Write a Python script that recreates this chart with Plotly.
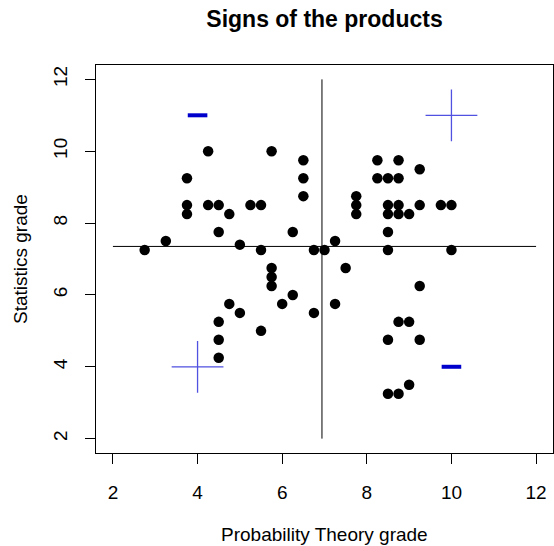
import plotly.graph_objects as go

# Grades of each student: probability theory (x) and statistics (y)
prob_grade = [4.25, 5.75, 6.5, 6.5, 6.5, 3.75, 3.75, 3.75, 4.25, 4.5, 4.75, 5.25, 5.5,
              4.5, 6.25, 3.25, 2.75, 5.0, 5.5, 6.75, 7.0,
              8.25, 8.75, 8.25, 8.5, 8.75, 9.25, 7.75, 7.75, 7.75, 8.5, 8.75, 8.5, 8.75,
              9.0, 9.25, 9.75, 10.0, 8.5, 7.25, 8.5, 10.0,
              5.75, 5.75, 5.75, 6.25, 6.0, 6.75, 4.75, 5.0, 4.5, 4.5, 4.5, 5.5,
              7.5, 9.25, 7.25, 8.75, 9.0, 8.5, 9.25, 9.0, 8.5, 8.75]
stat_grade = [10.0, 10.0, 9.75, 9.25, 8.75, 9.25, 8.5, 8.25, 8.5, 8.5, 8.25, 8.5, 8.5,
              7.75, 7.75, 7.5, 7.25, 7.4, 7.25, 7.25, 7.25,
              9.75, 9.75, 9.25, 9.25, 9.25, 9.5, 8.75, 8.5, 8.25, 8.5, 8.5, 8.25, 8.25,
              8.25, 8.5, 8.5, 8.5, 7.75, 7.5, 7.25, 7.25,
              6.75, 6.5, 6.25, 6.0, 5.75, 5.5, 5.75, 5.5, 5.25, 4.75, 4.25, 5.0,
              6.75, 6.25, 5.75, 5.25, 5.25, 4.75, 4.75, 3.5, 3.25, 3.25]

# Centre lines (means of the two grades)
mean_prob = 6.94
mean_stat = 7.35
line_span = [2, 12]

# Quadrant sign labels
sign_x = [4, 10, 10, 4]
sign_y = [11, 11, 4, 4]
sign = ["-", "+", "-", "+"]

tick_vals = [2, 4, 6, 8, 10, 12]

FONT = "Liberation Sans, Arial, sans-serif"

fig = go.Figure()

fig.add_trace(go.Scatter(x=line_span, y=[mean_stat, mean_stat], mode="lines",
                         line=dict(color="black", width=1), showlegend=False))
fig.add_trace(go.Scatter(x=[mean_prob, mean_prob], y=line_span, mode="lines",
                         line=dict(color="black", width=1), showlegend=False))

fig.add_trace(go.Scatter(x=prob_grade, y=stat_grade, mode="markers",
                         marker=dict(color="black", size=10.5), showlegend=False))

plus_x = [sx for sx, s in zip(sign_x, sign) if s == "+"]
plus_y = [sy for sy, s in zip(sign_y, sign) if s == "+"]
minus_x = [sx for sx, s in zip(sign_x, sign) if s == "-"]
minus_y = [sy for sy, s in zip(sign_y, sign) if s == "-"]

fig.add_trace(go.Scatter(x=plus_x, y=plus_y, mode="markers",
                         marker=dict(symbol="cross-thin", size=37,
                                     line=dict(color="rgb(80,80,225)", width=1.3)),
                         showlegend=False))
fig.add_trace(go.Scatter(x=minus_x, y=minus_y, mode="markers",
                         marker=dict(symbol="line-ew", size=14,
                                     line=dict(color="rgb(0,0,205)", width=4)),
                         showlegend=False))

axis_common = dict(range=[1.6, 12.4], tickvals=tick_vals, showgrid=False, zeroline=False,
                   showline=True, linecolor="black", linewidth=1, mirror=True,
                   ticks="outside", ticklen=10, tickcolor="black", tickwidth=1,
                   tickfont=dict(family=FONT, size=19, color="black"))

fig.update_layout(
    width=554, height=546,
    margin=dict(l=96, r=1, t=65, b=93),
    paper_bgcolor="white", plot_bgcolor="white",
    xaxis=dict(**axis_common, ticklabelstandoff=12),
    yaxis=dict(**axis_common, tickangle=-90, ticklabelstandoff=10),
    title=dict(text="<b>Signs of the products</b>", x=324.5 / 554, xanchor="center",
               y=1 - 19 / 546, yanchor="middle",
               font=dict(family=FONT, size=23, color="black")),
    annotations=[
        dict(text="Probability Theory grade", xref="paper", yref="paper",
             x=0.5, y=(453.4 - 535) / 388.4, xanchor="center", yanchor="middle",
             showarrow=False, font=dict(family=FONT, size=19, color="black")),
        dict(text="Statistics grade", xref="paper", yref="paper",
             x=(20 - 96) / 457, y=0.5, xanchor="center", yanchor="middle",
             textangle=-90, showarrow=False,
             font=dict(family=FONT, size=19, color="black")),
    ],
)

fig.write_html("out.html")
